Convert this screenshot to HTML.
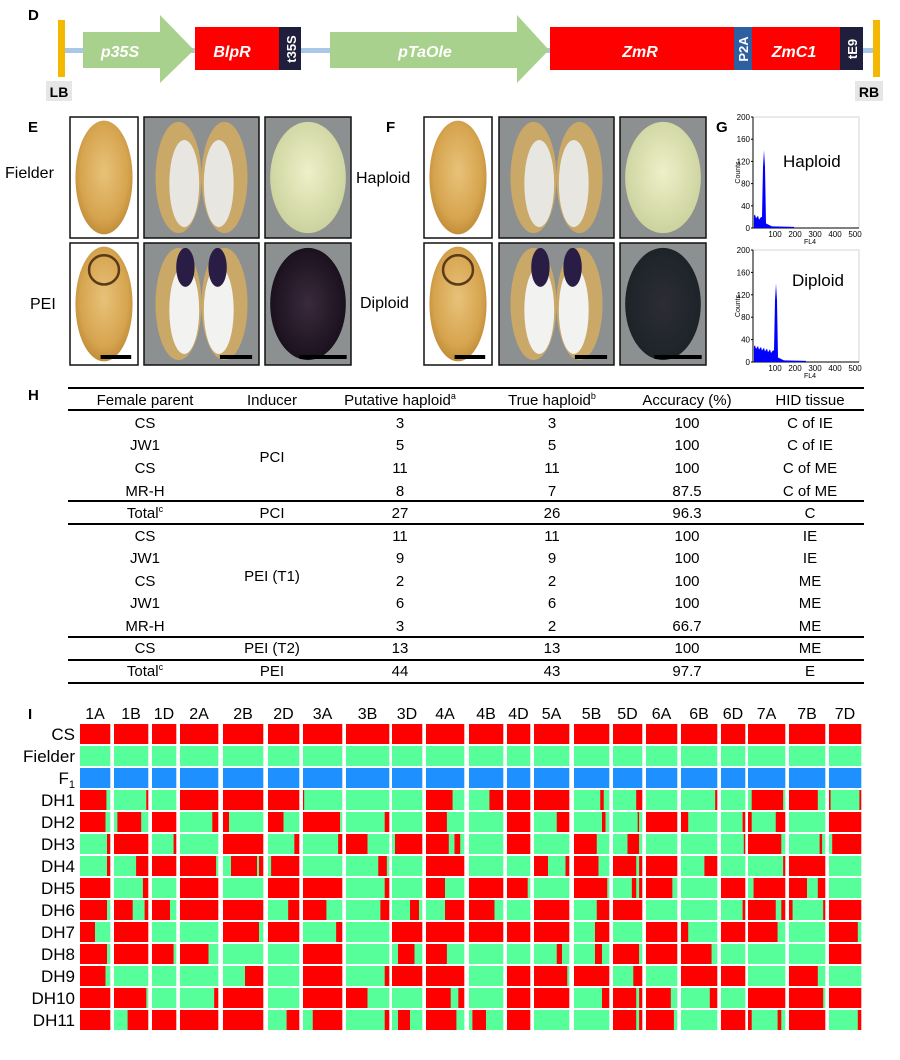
<!DOCTYPE html>
<html><head><meta charset="utf-8"><style>
html,body{margin:0;padding:0;background:#fff;}
svg{display:block;font-family:"Liberation Sans",Arial,sans-serif;}
</style></head><body>
<svg id="s" width="900" height="1060" viewBox="0 0 900 1060" xmlns="http://www.w3.org/2000/svg">
<defs>
<radialGradient id="grain" cx="50%" cy="45%" r="60%"><stop offset="0" stop-color="#e8c27a"/><stop offset="0.7" stop-color="#d6a44e"/><stop offset="1" stop-color="#b98532"/></radialGradient>
<radialGradient id="pale" cx="50%" cy="45%" r="60%"><stop offset="0" stop-color="#eef0c8"/><stop offset="1" stop-color="#c9d09a"/></radialGradient>
<radialGradient id="dark" cx="50%" cy="50%" r="60%"><stop offset="0" stop-color="#3a2a3c"/><stop offset="1" stop-color="#140c18"/></radialGradient>
<radialGradient id="dark2" cx="50%" cy="50%" r="60%"><stop offset="0" stop-color="#2e2c36"/><stop offset="0.85" stop-color="#1c2428"/><stop offset="1" stop-color="#3d6b6a"/></radialGradient>
</defs>
<text x="28" y="20" font-size="15" font-weight="bold">D</text>
<rect x="64" y="48" width="810" height="5" fill="#a9c8e8"/>
<rect x="58" y="20" width="7" height="57" fill="#f5b800"/>
<rect x="873" y="20" width="7" height="57" fill="#f5b800"/>
<rect x="46" y="81" width="26" height="20" fill="#e6e6e6"/><text x="59" y="97" font-size="14" font-weight="bold" text-anchor="middle">LB</text>
<rect x="855" y="81" width="28" height="20" fill="#e6e6e6"/><text x="869" y="97" font-size="14" font-weight="bold" text-anchor="middle">RB</text>
<polygon points="83,32 160,32 160,15 194,50 160,83 160,68 83,68" fill="#a9d18e"/>
<text x="120" y="57" font-size="16" font-weight="bold" font-style="italic" fill="#fff" text-anchor="middle">p35S</text>
<rect x="195" y="27" width="84" height="43" fill="#ff0000"/>
<text x="232" y="57" font-size="16" font-weight="bold" font-style="italic" fill="#fff" text-anchor="middle">BlpR</text>
<rect x="279" y="27" width="22" height="43" fill="#1f1f3d"/>
<text transform="translate(296,49) rotate(-90)" font-size="13" font-weight="bold" fill="#fff" text-anchor="middle">t35S</text>
<polygon points="330,32 517,32 517,15 549,50 517,83 517,68 330,68" fill="#a9d18e"/>
<text x="425" y="57" font-size="16" font-weight="bold" font-style="italic" fill="#fff" text-anchor="middle">pTaOle</text>
<rect x="550" y="27" width="184" height="43" fill="#ff0000"/>
<text x="640" y="57" font-size="16" font-weight="bold" font-style="italic" fill="#fff" text-anchor="middle">ZmR</text>
<rect x="734" y="27" width="18" height="43" fill="#2e5fa0"/>
<text transform="translate(748,49) rotate(-90)" font-size="13" font-weight="bold" fill="#fff" text-anchor="middle">P2A</text>
<rect x="752" y="27" width="88" height="43" fill="#ff0000"/>
<text x="794" y="57" font-size="16" font-weight="bold" font-style="italic" fill="#fff" text-anchor="middle">ZmC1</text>
<rect x="840" y="27" width="23" height="43" fill="#1f1f3d"/>
<text transform="translate(857,49) rotate(-90)" font-size="13" font-weight="bold" fill="#fff" text-anchor="middle">tE9</text>

<text x="28" y="132" font-size="15" font-weight="bold">E</text>
<text x="386" y="132" font-size="15" font-weight="bold">F</text>
<text x="716" y="132" font-size="15" font-weight="bold">G</text>
<text x="5" y="178" font-size="16">Fielder</text>
<text x="30" y="309" font-size="16">PEI</text>
<text x="356" y="183" font-size="16">Haploid</text>
<text x="360" y="308" font-size="16">Diploid</text>
<g id="photos"></g>
<g id="flow" font-size="8"></g>

<text x="28" y="400" font-size="15" font-weight="bold">H</text>
<g font-size="15" text-anchor="middle" id="tbl"></g>

<text x="28" y="719" font-size="15" font-weight="bold">I</text>
<g id="grid"></g>
</svg>
<script>
var NS="http://www.w3.org/2000/svg";
function el(p,t,a,txt){var e=document.createElementNS(NS,t);for(var k in a)e.setAttribute(k,a[k]);if(txt!=null)e.textContent=txt;p.appendChild(e);return e;}
var ph=document.getElementById('photos');
function photoSet(x1,x2,x3,w1,w2,w3,y,h,row,isF){
  el(ph,'rect',{x:x1,y:y,width:w1,height:h,fill:'#fff',stroke:'#111','stroke-width':1.5});
  el(ph,'ellipse',{cx:x1+w1/2,cy:y+h/2,rx:w1*0.42,ry:h*0.47,fill:'url(#grain)'});
  if(row==1){el(ph,'ellipse',{cx:x1+w1/2,cy:y+h*0.22,rx:w1*0.22,ry:h*0.12,fill:'none',stroke:'#5a3a18','stroke-width':2.5});}
  el(ph,'rect',{x:x2,y:y,width:w2,height:h,fill:'#8d9091',stroke:'#111','stroke-width':1.5});
  el(ph,'ellipse',{cx:x2+w2*0.3,cy:y+h/2,rx:w2*0.2,ry:h*0.46,fill:'#c9a868'});
  el(ph,'ellipse',{cx:x2+w2*0.7,cy:y+h/2,rx:w2*0.2,ry:h*0.46,fill:'#c9a868'});
  el(ph,'ellipse',{cx:x2+w2*0.35,cy:y+h*0.55,rx:w2*0.13,ry:h*0.36,fill:row==1?'#f2f2f0':'#e8e6e0'});
  el(ph,'ellipse',{cx:x2+w2*0.65,cy:y+h*0.55,rx:w2*0.13,ry:h*0.36,fill:row==1?'#f2f2f0':'#e8e6e0'});
  if(row==1){el(ph,'ellipse',{cx:x2+w2*0.36,cy:y+h*0.2,rx:w2*0.08,ry:h*0.16,fill:'#2a1d45'});el(ph,'ellipse',{cx:x2+w2*0.64,cy:y+h*0.2,rx:w2*0.08,ry:h*0.16,fill:'#2a1d45'});}
  el(ph,'rect',{x:x3,y:y,width:w3,height:h,fill:'#8d9091',stroke:'#111','stroke-width':1.5});
  el(ph,'ellipse',{cx:x3+w3/2,cy:y+h/2,rx:w3*0.44,ry:h*0.46,fill:row==0?'url(#pale)':(isF?'url(#dark2)':'url(#dark)')});
  if(row==1){
    el(ph,'rect',{x:x1+w1*0.45,y:y+h-10,width:w1*0.45,height:4,fill:'#000'});
    el(ph,'rect',{x:x2+w2*0.66,y:y+h-10,width:w2*0.28,height:4,fill:'#000'});
    el(ph,'rect',{x:x3+w3*0.4,y:y+h-10,width:w3*0.55,height:4,fill:'#000'});
  }
}
photoSet(70,144,265,68,115,86,117,121,0,false);
photoSet(70,144,265,68,115,86,243,122,1,false);
photoSet(424,499,620,68,115,86,117,121,0,true);
photoSet(424,499,620,68,115,86,243,122,1,true);
var fl=document.getElementById('flow');
function flow(top,bot,peakX,label,ly,dip){
  var L=753,R=859;
  el(fl,'rect',{x:L,y:top,width:R-L,height:bot-top,fill:'#fff',stroke:'#ccc','stroke-width':0.8});
  el(fl,'line',{x1:L,y1:top,x2:L,y2:bot,stroke:'#000','stroke-width':1});
  el(fl,'line',{x1:L,y1:bot,x2:R,y2:bot,stroke:'#000','stroke-width':1});
  var sc=(bot-top)/200;
  for(var v=0;v<=200;v+=40){var yy=bot-v*sc;el(fl,'text',{x:750,y:yy+3,'text-anchor':'end'},v);el(fl,'line',{x1:L-2,y1:yy,x2:L,y2:yy,stroke:'#000'});}
  [100,200,300,400,500].forEach(function(v){el(fl,'text',{x:755+v*0.2,y:bot+9,'text-anchor':'middle'},v);});
  el(fl,'text',{x:810,y:bot+16,'text-anchor':'middle','font-size':7},'FL4');
  el(fl,'text',{transform:'translate(740,'+((top+bot)/2)+') rotate(-90)','text-anchor':'middle','font-size':7},'Counts');
  var d='M'+(L+1)+','+bot;
  for(var x=L+1;x<peakX-2;x++){var h=(dip?25:20)-(x-L)*(dip?0.5:0.8)+ (x%3)*3;d+=' L'+x+','+(bot-Math.max(4,h)*sc);}
  d+=' L'+(peakX-2)+','+(bot-20*sc)+' L'+(peakX-1)+','+(bot-110*sc)+' L'+peakX+','+(bot-140*sc)+' L'+(peakX+1)+','+(bot-110*sc)+' L'+(peakX+2)+','+(bot-8*sc)+' L'+(peakX+8)+','+(bot-3*sc)+' L'+(peakX+30)+','+(bot-2*sc)+' L'+(peakX+30)+','+bot+' Z';
  el(fl,'path',{d:d,fill:'#0000ff'});
  el(fl,'text',{x:dip?792:783,y:ly,'font-size':17},label);
}
flow(117,228,764,'Haploid',167,false);
flow(250,362,776,'Diploid',286,true);
var tb=document.getElementById('tbl');
[388,410,501,524,637,660,683].forEach(function(y){el(tb,'rect',{x:68,y:y-1,width:796,height:2,fill:'#000'});});
var cx=[145,272,400,552,687,810];
function sup(x,y,main,s){var t=el(tb,'text',{x:x,y:y});t.appendChild(document.createTextNode(main));el(t,'tspan',{'font-size':9,dy:-6},s);}
el(tb,'text',{x:cx[0],y:405},'Female parent');el(tb,'text',{x:cx[1],y:405},'Inducer');
sup(cx[2],405,'Putative haploid','a');sup(cx[3],405,'True haploid','b');
el(tb,'text',{x:cx[4],y:405},'Accuracy (%)');el(tb,'text',{x:cx[5],y:405},'HID tissue');
var rows=[[428,'CS','','3','3','100','C of IE'],[450,'JW1','','5','5','100','C of IE'],[473,'CS','PCI','11','11','100','C of ME'],[496,'MR-H','','8','7','87.5','C of ME'],
[518,'Total','PCI','27','26','96.3','C'],[541,'CS','','11','11','100','IE'],[563,'JW1','','9','9','100','IE'],[586,'CS','PEI (T1)','2','2','100','ME'],[608,'JW1','','6','6','100','ME'],[631,'MR-H','','3','2','66.7','ME'],
[653,'CS','PEI (T2)','13','13','100','ME'],[676,'Total','PEI','44','43','97.7','E']];
rows.forEach(function(r){for(var i=1;i<7;i++){if(!r[i])continue;var y=r[0];if(i==2&&r[2]=='PCI'&&r[1]=='CS')y=462;if(i==2&&r[2]=='PEI (T1)')y=581;
 if(r[i]=='Total'){sup(cx[0],y,'Total','c');}else el(tb,'text',{x:cx[i-1],y:y},r[i]);}});
var g=document.getElementById('grid');
var cols=[['1A',80,110],['1B',114,148],['1D',152,176],['2A',180,218],['2B',223,263],['2D',268,299],['3A',303,342],['3B',346,389],['3D',392,422],['4A',426,464],['4B',469,503],['4D',507,530],['5A',534,569],['5B',574,609],['5D',613,642],['6A',646,677],['6B',681,717],['6D',721,745],['7A',748,785],['7B',789,825],['7D',829,861]];
var C={R:'#ff0000',G:'#57ff9b',B:'#1e90ff'};
var data={
'CS':'R','Fielder':'G','F1':'B',
'DH1':['R88G','G95R','G','R','R','R','R3G','G','G','R70G','G60R','R','R','G75R85G','G80R','G','G95R','G','G10R95G','R80G','R5G95R'],
'DH2':['R85G','G10R80G','R','G85R','R15G','R50G','R95G','G90R','G','R55G','G','R','G65R','G80R90G','G85R90G','R','R20G','G90R','R10G75R','G','R'],
'DH3':['G90R','R','G90R','G','R','G85R','G90R','R50G','G10R','R60G75R90G','G','R','G','R65G','G50R90G','G','G','G95R','R90G','G85R92G','G10R'],
'DH4':['G90R','G65R','R','R95G','G20R85G90R','G10R','G','G75R95G','G','R','G','G','R40G90R','R70G','R80G90R','R','G65R','G','G95R','R','G'],
'DH5':['R','G85R','G','R','G','R','R','G90R','G','R50G','R','R90G','G','R95G','G65R80G90R','R85G','G','R','G15R','R50G80R','G'],
'DH6':['R90G','R55G90R','R75G','R','R','G65R','R60G','G80R','G60R90G','G50R','R75G','G','R','G65R','R','G','G','G90R','R75G90R','R10G95R','R'],
'DH7':['R50G','R','G','G','R90G','R','G85R','G','R','R','R','R','R','G60R','G','R','R20G','R','R80G','G','R90G'],
'DH8':['R90G','R','R90G','R75G','G','G','R','G','G20R75G','R55G','G','G','G65R80G','G60R80G','R90G','R','R85G','G','G','G','R'],
'DH9':['R85G','G','G','G','G55R','G','R','G90R','R','R','G','R','R95G','R','G70R','G','R','R','G','R80G','G'],
'DH10':['R','R95G','G','G90R','R','G','R','R50G','G','R65G85R','G','R','R','G80R','R80G90R','R80G','G80R','G','R','R95G','R'],
'DH11':['R','G40R','R','R','R','G60R','G25R','G90R','G20R60G','R80G','G10R50G','R','G','G','R80G90R','R90G','G','R','R10G80R90G','R','G90R']
};
var names=['CS','Fielder','F1','DH1','DH2','DH3','DH4','DH5','DH6','DH7','DH8','DH9','DH10','DH11'];
cols.forEach(function(c){el(g,'text',{x:(c[1]+c[2])/2,y:719,'font-size':16,'text-anchor':'middle'},c[0]);});
names.forEach(function(n,ri){
  var y=724+ri*22,h=20;
  var lab=el(g,'text',{x:75,y:y+16,'font-size':17,'text-anchor':'end'});
  if(n=='F1'){lab.appendChild(document.createTextNode('F'));el(lab,'tspan',{'font-size':11,dy:4},'1');}else lab.textContent=n;
  cols.forEach(function(c,ci){
    var s=typeof data[n]=='string'?data[n]:data[n][ci];
    var w=c[2]-c[1];var re=/([RGB])(\d*)/g,m,start=0;
    while((m=re.exec(s))){var end=m[2]?parseInt(m[2])/100:1;
      el(g,'rect',{x:c[1]+start*w,y:y,width:(end-start)*w+0.3,height:h,fill:C[m[1]]});start=end;}
  });
});
</script>
</body></html>
